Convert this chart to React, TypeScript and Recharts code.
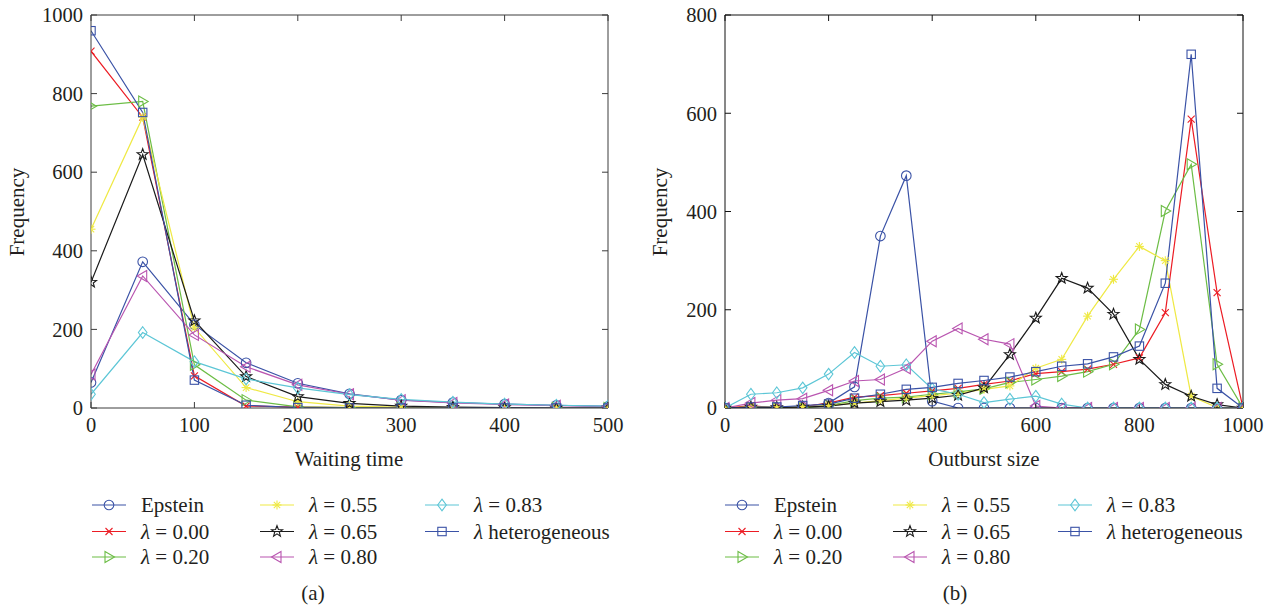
import { LineChart, Line, XAxis, YAxis } from "recharts";

// (a) waiting time distribution
const waitX = [0, 50, 100, 150, 200, 250, 300, 350, 400, 450, 500];
const epsteinA = [65, 372, 212, 115, 63, 36, 20, 14, 10, 7, 4];
const lam000A = [908, 740, 82, 5, 2, 1, 1, 0, 0, 0, 0];
const lam020A = [768, 780, 110, 20, 3, 1, 0, 0, 0, 0, 0];
const lam055A = [455, 740, 204, 52, 16, 5, 2, 1, 0, 0, 0];
const lam065A = [320, 645, 222, 80, 29, 12, 5, 2, 1, 0, 0];
const lam080A = [85, 336, 186, 105, 59, 35, 20, 13, 9, 6, 4];
const lam083A = [35, 192, 118, 74, 51, 34, 22, 15, 10, 7, 5];
const heteroA = [960, 752, 71, 7, 1, 0, 0, 0, 0, 0, 0];
const waitTicksX = [0, 100, 200, 300, 400, 500];
const waitTicksY = [0, 200, 400, 600, 800, 1000];

// (b) outburst size distribution
const sizeX = [0, 50, 100, 150, 200, 250, 300, 350, 400, 450, 500, 550, 600, 650, 700, 750, 800, 850, 900, 950, 1000];
const epsteinB = [0, 0, 0, 2, 10, 43, 350, 473, 14, 0, 0, 0, 0, 0, 0, 0, 0, 0, 0, 0, 0];
const lam000B = [0, 5, 0, 3, 10, 22, 25, 30, 35, 40, 48, 55, 70, 74, 79, 89, 102, 194, 588, 235, 0];
const lam020B = [0, 0, 0, 0, 5, 15, 20, 22, 28, 33, 39, 52, 58, 65, 74, 89, 160, 401, 496, 89, 0];
const lam055B = [0, 3, 2, 3, 5, 10, 15, 20, 25, 30, 38, 45, 81, 99, 187, 262, 329, 300, 24, 1, 0];
const lam065B = [0, 2, 1, 2, 4, 10, 13, 16, 20, 26, 41, 109, 183, 264, 244, 191, 99, 48, 24, 7, 0];
const lam080B = [0, 10, 16, 19, 36, 55, 58, 81, 136, 162, 140, 130, 4, 0, 0, 0, 0, 0, 0, 0, 0];
const lam083B = [0, 28, 31, 41, 69, 113, 85, 88, 39, 28, 11, 18, 24, 8, 0, 0, 0, 0, 0, 0, 0];
const heteroB = [0, 2, 2, 5, 8, 20, 28, 38, 42, 50, 56, 63, 74, 85, 90, 104, 126, 254, 720, 40, 0];
const sizeTicksX = [0, 200, 400, 600, 800, 1000];
const sizeTicksY = [0, 200, 400, 600, 800];

const seriesKeys = ["epstein", "lam000", "lam020", "lam055", "lam065", "lam080", "lam083", "hetero"];
const seriesLabels = ["Epstein", "0.00", "0.20", "0.55", "0.65", "0.80", "0.83", "heterogeneous"];

const meta: Record<string, { color: string; marker: string }> = {
  epstein: { color: "#3a52a6", marker: "circle" },
  lam000: { color: "#ec1c24", marker: "x" },
  lam020: { color: "#6cbd45", marker: "triRight" },
  lam055: { color: "#efe944", marker: "asterisk" },
  lam065: { color: "#1a1a1a", marker: "star" },
  lam080: { color: "#b955b0", marker: "triLeft" },
  lam083: { color: "#5cc6d6", marker: "diamond" },
  hetero: { color: "#3a52a6", marker: "square" },
};

const FONT = "Liberation Serif";
const TXT = "#231f20";

const rowsA = waitX.map((x, i) => ({
  x,
  epstein: epsteinA[i],
  lam000: lam000A[i],
  lam020: lam020A[i],
  lam055: lam055A[i],
  lam065: lam065A[i],
  lam080: lam080A[i],
  lam083: lam083A[i],
  hetero: heteroA[i],
}));

const rowsB = sizeX.map((x, i) => ({
  x,
  epstein: epsteinB[i],
  lam000: lam000B[i],
  lam020: lam020B[i],
  lam055: lam055B[i],
  lam065: lam065B[i],
  lam080: lam080B[i],
  lam083: lam083B[i],
  hetero: heteroB[i],
}));

function Marker({ kind, cx, cy, color }: { kind: string; cx: number; cy: number; color: string }) {
  const s = { stroke: color, strokeWidth: 1.1, fill: "none" };
  if (cx == null || cy == null) return null;
  switch (kind) {
    case "circle":
      return <circle cx={cx} cy={cy} r={4.8} {...s} />;
    case "x":
      return (
        <g {...s}>
          <line x1={cx - 3.5} y1={cy - 3.5} x2={cx + 3.5} y2={cy + 3.5} />
          <line x1={cx - 3.5} y1={cy + 3.5} x2={cx + 3.5} y2={cy - 3.5} />
        </g>
      );
    case "triRight":
      return <polygon points={`${cx - 4},${cy - 5.5} ${cx + 5.5},${cy} ${cx - 4},${cy + 5.5}`} {...s} />;
    case "triLeft":
      return <polygon points={`${cx + 4},${cy - 5.5} ${cx - 5.5},${cy} ${cx + 4},${cy + 5.5}`} {...s} />;
    case "asterisk":
      return (
        <g {...s}>
          <line x1={cx - 4.5} y1={cy} x2={cx + 4.5} y2={cy} />
          <line x1={cx} y1={cy - 4.5} x2={cx} y2={cy + 4.5} />
          <line x1={cx - 3.2} y1={cy - 3.2} x2={cx + 3.2} y2={cy + 3.2} />
          <line x1={cx - 3.2} y1={cy + 3.2} x2={cx + 3.2} y2={cy - 3.2} />
        </g>
      );
    case "star": {
      const pts: string[] = [];
      for (let k = 0; k < 10; k++) {
        const r = k % 2 === 0 ? 5.8 : 2.4;
        const a = -Math.PI / 2 + (k * Math.PI) / 5;
        pts.push(`${cx + r * Math.cos(a)},${cy + r * Math.sin(a)}`);
      }
      return <polygon points={pts.join(" ")} {...s} />;
    }
    case "diamond":
      return <polygon points={`${cx},${cy - 5.8} ${cx + 4.3},${cy} ${cx},${cy + 5.8} ${cx - 4.3},${cy}`} {...s} />;
    case "square":
      return <rect x={cx - 4.2} y={cy - 4.2} width={8.4} height={8.4} {...s} />;
    default:
      return null;
  }
}

function Panel({
  rows,
  xDomain,
  xTicks,
  yDomain,
  yTicks,
  width,
  height,
  plot,
  axisColor,
}: {
  rows: any[];
  xDomain: number[];
  xTicks: number[];
  yDomain: number[];
  yTicks: number[];
  width: number;
  height: number;
  plot: { top: number; right: number; bottom: number; left: number };
  axisColor: string;
}) {
  const tickStyle = { fill: TXT, fontSize: 20.5, fontFamily: FONT };
  // axis boxes: bottom 30, top 5, left 60, right 5
  const margin = {
    top: plot.top - 5,
    bottom: plot.bottom - 30,
    left: plot.left - 60,
    right: plot.right - 5,
  };
  return (
    <LineChart width={width} height={height} data={rows} margin={margin}>
      <XAxis
        dataKey="x"
        type="number"
        domain={xDomain}
        ticks={xTicks}
        interval={0}
        height={30}
        tickSize={-6}
        tickMargin={15}
        stroke={axisColor}
        tick={tickStyle}
        allowDataOverflow
      />
      <XAxis
        xAxisId="top"
        orientation="top"
        dataKey="x"
        type="number"
        domain={xDomain}
        ticks={xTicks}
        interval={0}
        height={5}
        tickSize={-6}
        stroke={axisColor}
        tickFormatter={() => ""}
        allowDataOverflow
      />
      <YAxis
        type="number"
        domain={yDomain}
        ticks={yTicks}
        interval={0}
        width={60}
        tickSize={-6}
        tickMargin={14}
        stroke={axisColor}
        tick={tickStyle}
        allowDataOverflow
      />
      <YAxis
        yAxisId="right"
        orientation="right"
        type="number"
        domain={yDomain}
        ticks={yTicks}
        interval={0}
        width={5}
        tickSize={-6}
        stroke={axisColor}
        tickFormatter={() => ""}
        allowDataOverflow
      />
      {seriesKeys.map((k) => (
        <Line
          key={k}
          dataKey={k}
          stroke={meta[k].color}
          strokeWidth={1.2}
          isAnimationActive={false}
          activeDot={false}
          dot={(p: any) => (
            <Marker key={`${k}-${p.index}`} kind={meta[k].marker} cx={p.cx} cy={p.cy} color={meta[k].color} />
          )}
        />
      ))}
    </LineChart>
  );
}

const textStyle = { fontFamily: FONT, fontSize: 21, fill: TXT };

function LegendBlock({ left, top }: { left: number; top: number }) {
  const colX = [0, 168, 333];
  const rowY = [0, 26.5, 52];
  return (
    <g transform={`translate(${left},${top})`}>
      {seriesKeys.map((k, i) => {
        const col = Math.floor(i / 3);
        const row = i % 3;
        const x = colX[col];
        const y = rowY[row];
        const m = meta[k];
        return (
          <g key={k}>
            <line x1={x} y1={y} x2={x + 34} y2={y} stroke={m.color} strokeWidth={1.2} />
            <Marker kind={m.marker} cx={x + 17} cy={y} color={m.color} />
            <text x={x + 49} y={y + 7} style={textStyle}>
              {i === 0 ? (
                "Epstein"
              ) : i === 7 ? (
                <>
                  <tspan fontStyle="italic">λ</tspan> heterogeneous
                </>
              ) : (
                <>
                  <tspan fontStyle="italic">λ</tspan>
                  {" = " + seriesLabels[i]}
                </>
              )}
            </text>
          </g>
        );
      })}
    </g>
  );
}

export default function App() {
  return (
    <div
      style={{
        position: "fixed",
        left: 0,
        top: 0,
        width: 1274,
        height: 610,
        background: "#fff",
        fontFamily: FONT,
        overflow: "hidden",
      }}
    >
      <div style={{ position: "absolute", left: 0, top: 0 }}>
        <Panel
          rows={rowsA}
          xDomain={[0, 500]}
          xTicks={waitTicksX}
          yDomain={[0, 1000]}
          yTicks={waitTicksY}
          width={640}
          height={440}
          plot={{ top: 15, right: 32, bottom: 32, left: 91 }}
          axisColor="#3c3c3c"
        />
      </div>
      <div style={{ position: "absolute", left: 640, top: 0 }}>
        <Panel
          rows={rowsB}
          xDomain={[0, 1000]}
          xTicks={sizeTicksX}
          yDomain={[0, 800]}
          yTicks={sizeTicksY}
          width={634}
          height={440}
          plot={{ top: 15, right: 31, bottom: 32, left: 85 }}
          axisColor="#111"
        />
      </div>
      <svg width={1274} height={610} style={{ position: "absolute", left: 0, top: 0, pointerEvents: "none" }}>
        <text transform="translate(24,212) rotate(-90)" textAnchor="middle" style={textStyle}>
          Frequency
        </text>
        <text transform="translate(667,212) rotate(-90)" textAnchor="middle" style={textStyle}>
          Frequency
        </text>
        <text x={349} y={466} textAnchor="middle" style={textStyle}>
          Waiting time
        </text>
        <text x={984} y={466} textAnchor="middle" style={textStyle}>
          Outburst size
        </text>
        <LegendBlock left={92} top={505} />
        <LegendBlock left={725} top={505} />
        <text x={313} y={600} textAnchor="middle" style={textStyle}>
          (a)
        </text>
        <text x={955} y={600} textAnchor="middle" style={textStyle}>
          (b)
        </text>
      </svg>
    </div>
  );
}
